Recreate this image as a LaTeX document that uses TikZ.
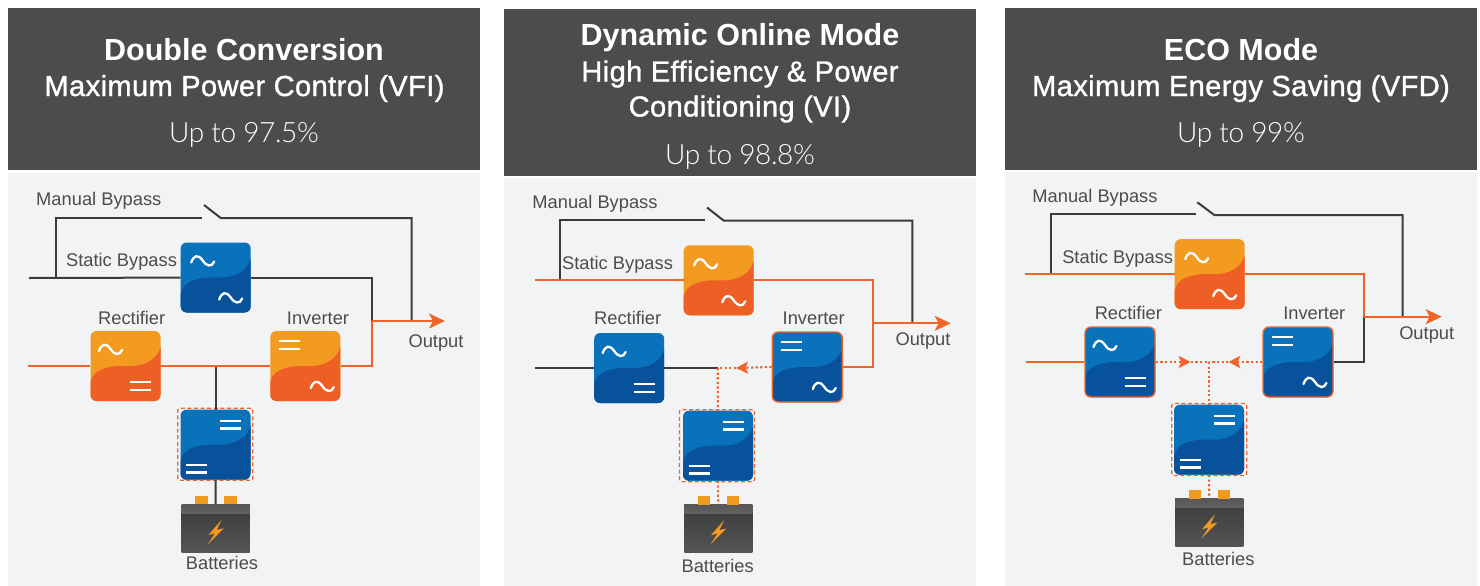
\documentclass[tikz,border=0pt]{standalone}
\usepackage{fontspec}
\setmainfont{Liberation Sans}
\newfontfamily\lightfont[LetterSpace=-1.5]{Lato Light}
\newfontfamily\midfont[FakeBold=1.2,LetterSpace=1.5]{Liberation Sans}
\usetikzlibrary{arrows.meta}

\definecolor{headgray}{HTML}{4B4C4E}
\definecolor{panelgray}{HTML}{F1F3F5}
\definecolor{blueup}{HTML}{0A72BA}
\definecolor{bluelow}{HTML}{07529B}
\definecolor{orangeup}{HTML}{F39B21}
\definecolor{orangelow}{HTML}{EE5F26}
\definecolor{wirered}{HTML}{F06429}
\definecolor{wireblack}{HTML}{3D3A3A}
\definecolor{labelgray}{HTML}{4A4C4E}
\definecolor{batbody}{HTML}{424242}
\definecolor{batband}{HTML}{6C6C6C}

\tikzset{
  headbar/.style={rectangle,fill=headgray,minimum width=472,inner sep=0},
  panelbg/.style={rectangle,fill=panelgray,minimum width=472,inner sep=0},
  headtitle/.style={text=white,inner sep=0,text height=22,text depth=0,font={\fontsize{30.5}{32}\bfseries}},
  headsub/.style={text=white,inner sep=0,text height=21,text depth=0,font={\fontsize{29}{32}\midfont}},
  headrate/.style={text=white,inner sep=0,text height=21,text depth=0,font={\fontsize{28}{32}\lightfont}},
  lab/.style={text=labelgray,inner sep=0,text height=13.2,text depth=0,font={\fontsize{18.3}{20}\selectfont}},
  block/.style n args={2}{rectangle,rounded corners=6,minimum size=70,inner sep=0,fill=#1,
    path picture={
      \fill[#2,shift={(path picture bounding box.center)}] (-36,18) .. controls (-30,3) and (-15,0) .. (0,0)
        .. controls (18,0) and (31,-6) .. (36,-23) -- (36,36) -- (-36,36) -- cycle;
    }},
  blueblk/.style={block={blueup}{bluelow}},
  orangeblk/.style={block={orangeup}{orangelow}},
  active/.style={draw=wirered,line width=1.4},
  dashbox/.style={rectangle,draw=wirered,line width=1.3,dash pattern=on 4 off 2.6,rounded corners=2,minimum width=75,minimum height=72,inner sep=0},
  batbox/.style={rectangle,fill=batbody,minimum width=68,minimum height=48,inner sep=0,
    path picture={
      \begin{scope}[shift={(path picture bounding box.center)}]
        \shade[bottom color=batbody!90!white,top color=batbody!95!black] (-35,-16) rectangle (35,25);
        \shade[top color=batband!115!white,bottom color=batband!90!black] (-35,-25) rectangle (35,-15);
        \fill[orangeup] (5.7,-8) -- (-7.3,7) -- (-0.7,5.3) -- (-7.7,16) -- (8,0.3) -- (1,2) -- cycle;
      \end{scope}
    }},
  terminal/.style={rectangle,fill=orangeup,minimum width=12.7,minimum height=8.5,inner sep=0},
  blackwire/.style={draw=wireblack,line width=2},
  redwire/.style={draw=wirered,line width=2},
  dotwire/.style={draw=wirered,line width=2.1,dash pattern=on 2.2 off 2.4},
  outarrow/.style={-{Stealth[length=16,width=15,inset=4]}},
  midarrow/.style={-{Stealth[length=12,width=12,inset=2.5]}},
  symline/.style={draw=white,line width=2.3},
  pics/acsym/.style={code={
    \draw[symline,line cap=round] (-11.5,2) .. controls (-9,-5) and (-5,-7) .. (0,0) .. controls (4,6) and (9,7) .. (11.5,1);
  }},
  pics/dcsym/.style={code={
    \draw[symline] (-10.5,-3.8) -- (10.5,-3.8);
    \draw[symline] (-10.5,3.8) -- (10.5,3.8);
  }},
  pics/acdc/.style={code={
    \pic at (-15,-17) {acsym};
    \pic at (15,20) {dcsym};
  }},
  pics/dcac/.style={code={
    \pic at (-16,-21) {dcsym};
    \pic at (17,20) {acsym};
  }},
  pics/acac/.style={code={
    \pic at (-13,-17) {acsym};
    \pic at (15,20) {acsym};
  }},
  pics/dcdc/.style={code={
    \pic at (15,-20) {dcsym};
    \pic at (-19,24) {dcsym};
  }},
}

\begin{document}
\begin{tikzpicture}[x=1pt,y=-1pt]

\path[use as bounding box,fill=white] (0,0) rectangle (1480,586);

%double conversion
\node[headbar,minimum height=162] (head1) at (244,89) {};
\node[panelbg,minimum height=413] (back1) at (244,379.5) {};
\node[headtitle] (title1) at (244,49.5) {Double Conversion};
\node[headsub] (sub1) at (244.5,85.5) {Maximum Power Control (VFI)};
\node[headrate] (rate1) at (244,132) {Up to 97.5\%};

\node[orangeblk] (rect1) at (125.5,366) {};
\node[orangeblk] (inv1) at (305.3,366) {};
\node[blueblk] (static1) at (215.7,277.5) {};
\node[blueblk] (conv1) at (215.5,444.7) {};
\node[dashbox] (dash1) at (215.3,444.3) {};
\node[batbox] (bat1) at (215.7,528) {};
\node[terminal] (pola1) at (201.3,499.8) {};
\node[terminal] (polb1) at (230.3,499.8) {};
\pic at (rect1) {acdc};
\pic at (inv1) {dcac};
\pic at (static1) {acac};
\pic at (conv1) {dcdc};

\coordinate (in1) at (28,366);
\coordinate (sin1) at (29,278);
\coordinate (tap1) at (56,278);
\coordinate (swa1) at (202,217.7);
\coordinate (swb1) at (204,205);
\coordinate (swc1) at (220.7,218);
\coordinate (bus1) at (371.7,321);
\coordinate (out1) at (411.7,321);
\coordinate (tip1) at (445,321);
\coordinate (junc1) at (215.5,366);

\draw[blackwire] (sin1) -- (static1);
\draw[blackwire] (tap1) |- (swa1);
\draw[blackwire] (swb1) -- (swc1) -| (out1);
\draw[blackwire] (static1.east) -| (bus1);
\draw[blackwire] (junc1) -- (conv1);
\draw[blackwire] (conv1) -- (bat1);
\draw[redwire] (in1) -- (rect1);
\draw[redwire] (rect1) -- (inv1);
\draw[redwire] (inv1.east) -| (bus1);
\draw[redwire,outarrow] (bus1) -- (tip1);

\node[lab] (manual1) at (98.8,198.7) {Manual Bypass};
\node[lab] (bypass1) at (121.5,259.5) {Static Bypass};
\node[lab] (rlab1) at (131.7,317.7) {Rectifier};
\node[lab] (ilab1) at (318,317.7) {Inverter};
\node[lab] (olab1) at (436,340.7) {Output};
\node[lab] (blab1) at (222,562.7) {Batteries};

%dynamic online mode
\node[headbar,minimum height=167] (head2) at (740,92.5) {};
\node[panelbg,minimum height=408] (back2) at (740,382) {};
\node[headtitle] (title2) at (740,35) {Dynamic Online Mode};
\node[headsub] (sub2) at (740,71) {High Efficiency \& Power};
\node[headsub] (subb2) at (740,106) {Conditioning (VI)};
\node[headrate] (rate2) at (740,154) {Up to 98.8\%};

\node[blueblk] (rect2) at (629.2,368) {};
\node[blueblk,active] (inv2) at (807.3,367) {};
\node[orangeblk] (static2) at (718.7,280.3) {};
\node[blueblk] (conv2) at (718,445.7) {};
\node[dashbox] (dash2) at (717,445.7) {};
\node[batbox] (bat2) at (718.3,528.2) {};
\node[terminal] (pola2) at (704,500.3) {};
\node[terminal] (polb2) at (733,500.3) {};
\pic at (rect2) {acdc};
\pic at (inv2) {dcac};
\pic at (static2) {acac};
\pic at (conv2) {dcdc};

\coordinate (in2) at (535,368);
\coordinate (sin2) at (535,280.3);
\coordinate (tap2) at (560,280.3);
\coordinate (swa2) at (705,220.3);
\coordinate (swb2) at (707,207.5);
\coordinate (swc2) at (723.5,220.5);
\coordinate (bus2) at (873.3,323.3);
\coordinate (out2) at (912.3,323.3);
\coordinate (tip2) at (950.7,323.3);
\coordinate (junc2) at (717.7,368);
\coordinate (ahead2) at (736,368);

\draw[blackwire] (in2) -- (rect2);
\draw[blackwire] (rect2) -- (junc2);
\draw[blackwire] (tap2) |- (swa2);
\draw[blackwire] (swb2) -- (swc2) -| (out2);
\draw[redwire] (sin2) -- (static2);
\draw[redwire] (static2.east) -| (bus2);
\draw[redwire] (inv2.east) -| (bus2);
\draw[redwire,outarrow] (bus2) -- (tip2);
\draw[dotwire,midarrow] (inv2.west) -- (ahead2);
\draw[dotwire] (ahead2) -- (junc2);
\draw[dotwire] (junc2) -- (conv2);
\draw[dotwire] (conv2) -- (bat2);

\node[lab] (manual2) at (595,201.7) {Manual Bypass};
\node[lab] (bypass2) at (617.5,262.5) {Static Bypass};
\node[lab] (rlab2) at (627.7,318.3) {Rectifier};
\node[lab] (ilab2) at (813.7,318.3) {Inverter};
\node[lab] (olab2) at (923,338.5) {Output};
\node[lab] (blab2) at (717.7,565.7) {Batteries};

%eco mode
\node[headbar,minimum height=162] (head3) at (1241,89) {};
\node[panelbg,minimum height=414] (back3) at (1241,379) {};
\node[headtitle] (title3) at (1241,49.5) {ECO Mode};
\node[headsub] (sub3) at (1241,85.5) {Maximum Energy Saving (VFD)};
\node[headrate] (rate3) at (1241,132) {Up to 99\%};

\node[blueblk,active] (rect3) at (1120,362) {};
\node[blueblk,active] (inv3) at (1298,362) {};
\node[orangeblk] (static3) at (1209.7,274.2) {};
\node[blueblk] (conv3) at (1209,439.7) {};
\node[dashbox] (dash3) at (1209.3,439.5) {};
\node[batbox] (bat3) at (1209.3,522.2) {};
\node[terminal] (pola3) at (1195,494.6) {};
\node[terminal] (polb3) at (1224,494.6) {};
\pic at (rect3) {acdc};
\pic at (inv3) {dcac};
\pic at (static3) {acac};
\pic at (conv3) {dcdc};

\coordinate (in3) at (1026,362);
\coordinate (sin3) at (1025.3,274.2);
\coordinate (tap3) at (1051,274.2);
\coordinate (swa3) at (1196,214.3);
\coordinate (swb3) at (1197.3,202.3);
\coordinate (swc3) at (1214.3,215);
\coordinate (bus3) at (1363.7,316.7);
\coordinate (out3) at (1402.7,316.7);
\coordinate (tip3) at (1441.7,316.7);
\coordinate (junc3) at (1209,362);
\coordinate (aheada3) at (1190.7,362);
\coordinate (aheadb3) at (1228.3,362);

\draw[blackwire] (tap3) |- (swa3);
\draw[blackwire] (swb3) -- (swc3) -| (out3);
\draw[blackwire] (inv3.east) -| (bus3);
\draw[redwire] (in3) -- (rect3);
\draw[redwire] (sin3) -- (static3);
\draw[redwire] (static3.east) -| (bus3);
\draw[redwire,outarrow] (bus3) -- (tip3);
\draw[dotwire,midarrow] (rect3.east) -- (aheada3);
\draw[dotwire] (aheada3) -- (junc3);
\draw[dotwire,midarrow] (inv3.west) -- (aheadb3);
\draw[dotwire] (aheadb3) -- (junc3);
\draw[dotwire] (junc3) -- (conv3);
\draw[dotwire] (conv3) -- (bat3);

\node[lab] (manual3) at (1095,195.7) {Manual Bypass};
\node[lab] (bypass3) at (1117.7,256.7) {Static Bypass};
\node[lab] (rlab3) at (1128.3,312.7) {Rectifier};
\node[lab] (ilab3) at (1314.3,312.7) {Inverter};
\node[lab] (olab3) at (1426.7,332.7) {Output};
\node[lab] (blab3) at (1218.3,559.3) {Batteries};

\end{tikzpicture}
\end{document}
